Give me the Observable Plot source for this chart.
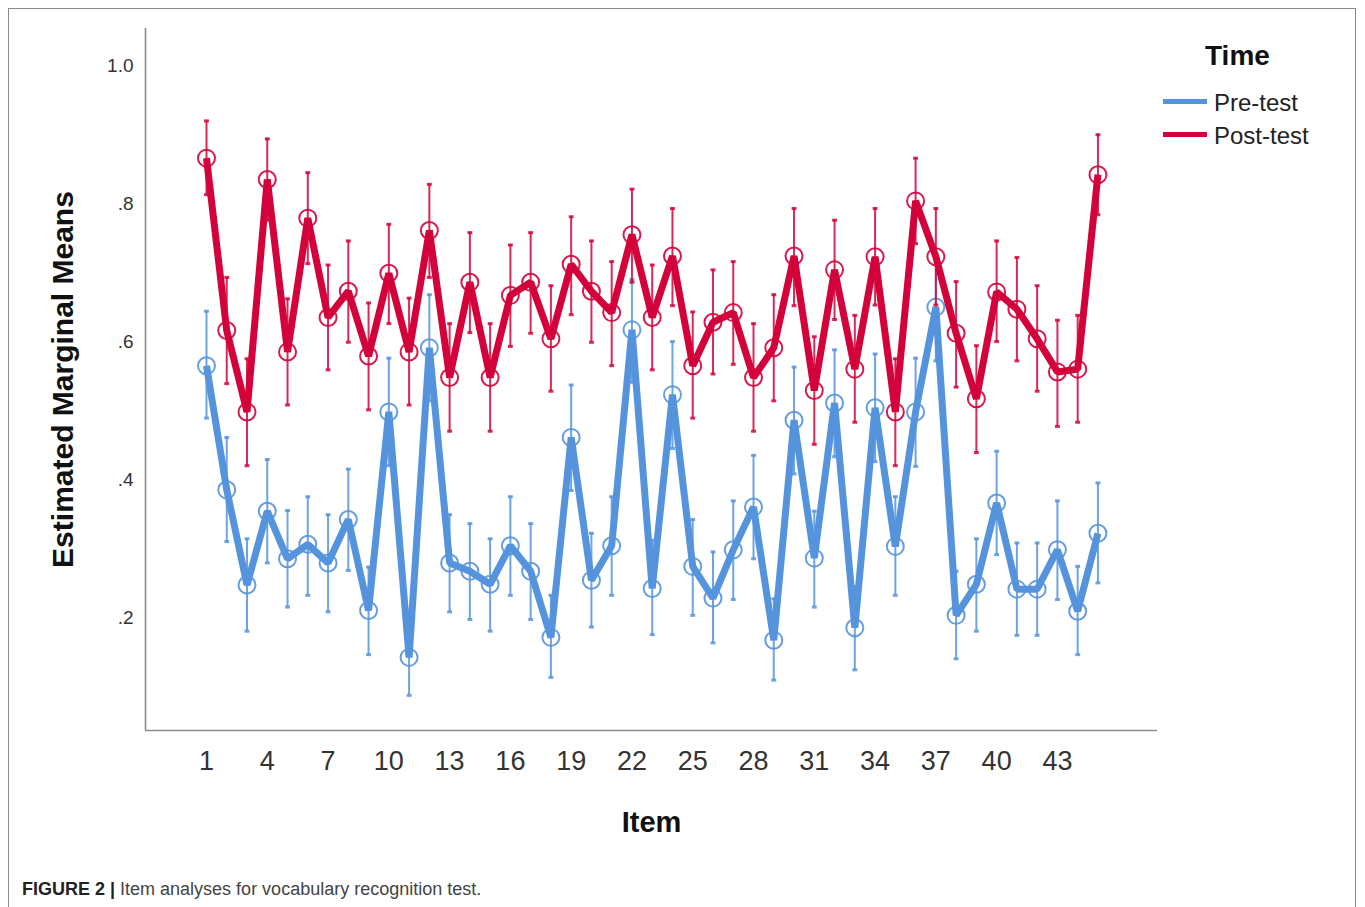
<!DOCTYPE html>
<html>
<head>
<meta charset="utf-8">
<script src="https://cdn.jsdelivr.net/npm/d3@7"></script>
<script src="https://cdn.jsdelivr.net/npm/@observablehq/plot@0.6"></script>
<style>
  body { margin: 0; background: #fff; font-family: "Liberation Sans", Arial, sans-serif; }
  #wrap { position: relative; width: 1365px; height: 907px; overflow: hidden; background: #fff; }
  #border { position: absolute; left: 8px; top: 8px; width: 1348px; height: 960px; border: 1px solid #8a8a8a; box-sizing: border-box; }
  #chart { position: absolute; left: 0; top: 0; }
  .abs { position: absolute; white-space: nowrap; }
  #legTitle { left: 1205px; top: 38px; font-size: 28px; line-height: 36px; font-weight: bold; color: #111; }
  .swatch { position: absolute; left: 1163px; width: 44px; height: 5px; }
  .legLab { left: 1214px; font-size: 24px; line-height: 28px; color: #222; }
  #caption { left: 22px; top: 878px; font-size: 18px; line-height: 22px; color: #444; }
  #caption b { color: #222; }
</style>
</head>
<body>
<div id="wrap">
  <div id="border"></div>
  <div id="chart"></div>
  <div id="legTitle" class="abs">Time</div>
  <div id="sw0" class="swatch" style="top:99px"></div>
  <div id="lab0" class="abs legLab" style="top:89px"></div>
  <div id="sw1" class="swatch" style="top:132px"></div>
  <div id="lab1" class="abs legLab" style="top:122px"></div>
  <div id="caption" class="abs"><b>FIGURE 2 |</b> Item analyses for vocabulary recognition test.</div>
</div>
<script>
// ---- data ----
const items = [1,2,3,4,5,6,7,8,9,10,11,12,13,14,15,16,17,18,19,20,21,22,23,24,25,26,27,28,29,30,31,32,33,34,35,36,37,38,39,40,41,42,43,44,45];
const seriesNames = ["Pre-test", "Post-test"];
const seriesColors = ["#5594dd", "#d3023a"];

const preMean = [0.565,0.385,0.247,0.354,0.285,0.306,0.279,0.342,0.210,0.498,0.142,0.591,0.279,0.267,0.248,0.304,0.267,0.171,0.461,0.254,0.304,0.617,0.242,0.523,0.274,0.228,0.298,0.360,0.167,0.486,0.286,0.511,0.185,0.504,0.303,0.498,0.650,0.203,0.248,0.366,0.241,0.241,0.298,0.209,0.322];
const preLow  = [0.489,0.310,0.180,0.279,0.215,0.232,0.208,0.268,0.146,0.420,0.087,0.514,0.208,0.197,0.180,0.232,0.197,0.113,0.384,0.186,0.232,0.541,0.175,0.445,0.203,0.163,0.226,0.285,0.109,0.408,0.215,0.433,0.124,0.426,0.232,0.419,0.572,0.140,0.180,0.291,0.174,0.174,0.226,0.146,0.250];
const preHigh = [0.644,0.461,0.314,0.429,0.355,0.375,0.349,0.415,0.273,0.576,0.197,0.668,0.349,0.336,0.314,0.375,0.336,0.232,0.537,0.322,0.375,0.690,0.312,0.600,0.342,0.295,0.369,0.435,0.227,0.563,0.354,0.588,0.245,0.582,0.375,0.576,0.727,0.267,0.314,0.441,0.308,0.308,0.369,0.274,0.395];

const postMean = [0.866,0.616,0.498,0.835,0.585,0.779,0.635,0.673,0.579,0.699,0.585,0.761,0.548,0.686,0.548,0.667,0.686,0.604,0.712,0.673,0.642,0.755,0.635,0.724,0.565,0.628,0.642,0.548,0.591,0.724,0.529,0.704,0.560,0.723,0.498,0.804,0.723,0.612,0.517,0.672,0.647,0.604,0.556,0.560,0.842];
const postLow  = [0.813,0.539,0.420,0.776,0.508,0.713,0.559,0.599,0.501,0.626,0.508,0.693,0.470,0.613,0.470,0.593,0.612,0.528,0.639,0.599,0.565,0.686,0.559,0.652,0.489,0.553,0.567,0.470,0.514,0.652,0.451,0.632,0.483,0.653,0.420,0.742,0.653,0.534,0.439,0.600,0.572,0.528,0.477,0.483,0.784];
const postHigh = [0.920,0.693,0.575,0.894,0.662,0.845,0.711,0.746,0.656,0.770,0.663,0.828,0.626,0.758,0.626,0.740,0.758,0.681,0.781,0.746,0.716,0.821,0.711,0.793,0.643,0.704,0.716,0.626,0.668,0.793,0.607,0.776,0.638,0.793,0.575,0.866,0.793,0.687,0.594,0.746,0.722,0.681,0.631,0.638,0.900];

const xTicks = [1,4,7,10,13,16,19,22,25,28,31,34,37,40,43];
const yTicks = [0.2,0.4,0.6,0.8,1.0];
const yTickLabels = [".2",".4",".6",".8","1.0"];
const xDomain = [-2.01, 47.94];
const yDomain = [0.036, 1.054];

// ---- build table ----
function rows(name, m, lo, hi) {
  return items.map((it, i) => ({item: it, time: name, mean: m[i], lo: lo[i], hi: hi[i]}));
}
const pre = rows(seriesNames[0], preMean, preLow, preHigh);
const post = rows(seriesNames[1], postMean, postLow, postHigh);

function seriesMarks(data, color) {
  const cap = 0.12;
  return [
    Plot.ruleX(data, {x: "item", y1: "lo", y2: "hi", stroke: color, strokeWidth: 2, strokeOpacity: 0.85}),
    Plot.link(data, {x1: d => d.item - cap, x2: d => d.item + cap, y1: "lo", y2: "lo", stroke: color, strokeWidth: 3, strokeOpacity: 0.85}),
    Plot.link(data, {x1: d => d.item - cap, x2: d => d.item + cap, y1: "hi", y2: "hi", stroke: color, strokeWidth: 3, strokeOpacity: 0.85}),
    Plot.line(data, {x: "item", y: "mean", stroke: color, strokeWidth: 7, strokeLinejoin: "miter", strokeLinecap: "butt"}),
    Plot.dot(data, {x: "item", y: "mean", r: 8.5, stroke: color, strokeWidth: 2, fill: "none", strokeOpacity: 0.9})
  ];
}

const chart = Plot.plot({
  width: 1365,
  height: 860,
  marginLeft: 145,
  marginRight: 208,
  marginTop: 28,
  marginBottom: 130,
  style: {fontFamily: "'Liberation Sans', Arial, sans-serif", background: "transparent", color: "#222"},
  x: {type: "linear", domain: xDomain},
  y: {type: "linear", domain: yDomain},
  marks: [
    Plot.ruleX([xDomain[0]], {stroke: "#8c8c8c", strokeWidth: 1.6}),
    Plot.ruleY([yDomain[0]], {stroke: "#8c8c8c", strokeWidth: 1.6}),
    Plot.axisX({ticks: xTicks, tickSize: 0, tickPadding: 20, fontSize: 27, tickFormat: d => String(d), label: null, fill: "#333"}),
    Plot.axisY({ticks: yTicks, tickSize: 0, tickPadding: 12, fontSize: 19, tickFormat: d => yTickLabels[yTicks.indexOf(d)] ?? String(d), label: null, fill: "#333"}),
    Plot.text(["Estimated Marginal Means"], {text: d => d, frameAnchor: "left", textAnchor: "middle", lineAnchor: "middle", dx: -82, rotate: -90, fontSize: 30, fontWeight: "bold", fill: "#111"}),
    Plot.text(["Item"], {text: d => d, frameAnchor: "bottom", textAnchor: "middle", lineAnchor: "middle", dy: 92, fontSize: 29, fontWeight: "bold", fill: "#111"}),
    ...seriesMarks(pre, seriesColors[0]),
    ...seriesMarks(post, seriesColors[1])
  ]
});
document.getElementById("chart").appendChild(chart);

// legend
seriesNames.forEach((n, i) => {
  document.getElementById("sw" + i).style.background = seriesColors[i];
  document.getElementById("lab" + i).textContent = n;
});
</script>
</body>
</html>
